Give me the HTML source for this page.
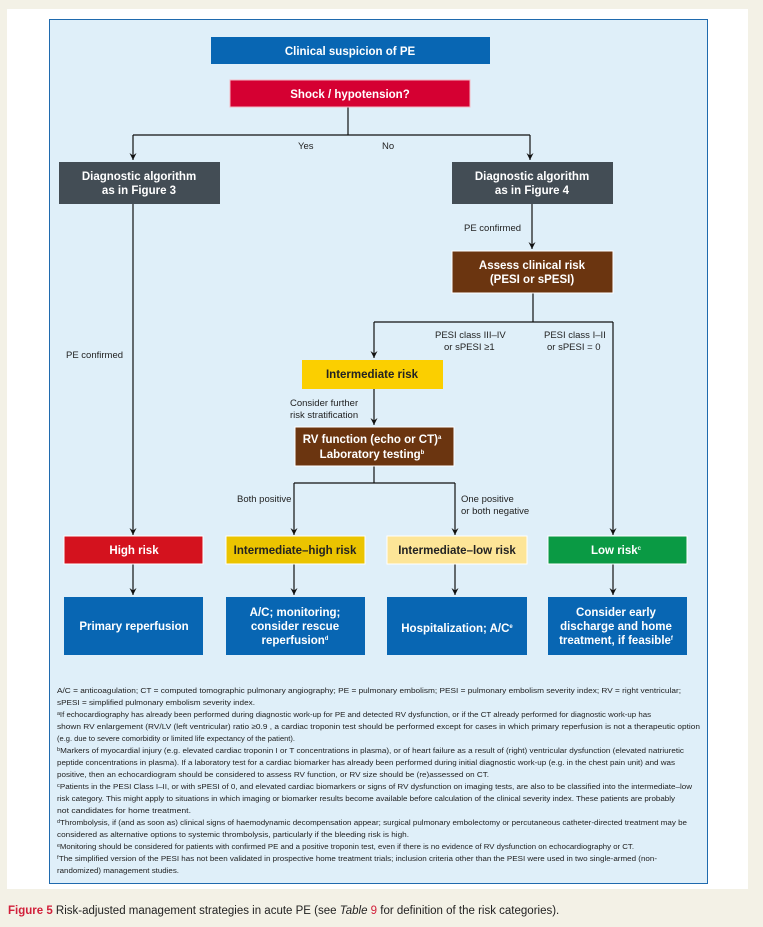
<!DOCTYPE html>
<html><head><meta charset="utf-8"><style>
html,body{margin:0;padding:0;background:#f3f1e6;}
svg{display:block;font-family:"Liberation Sans",sans-serif;}
.w{fill:#fff;font-weight:bold;font-size:11.5px;text-anchor:middle;}
.k{fill:#222;font-weight:bold;font-size:11.5px;text-anchor:middle;}
.l{fill:#222;font-size:9.5px;}
.f{fill:#222;font-size:7.6px;}
</style></head><body>
<svg width="763" height="927" viewBox="0 0 763 927" xmlns="http://www.w3.org/2000/svg">
<defs><marker id="a" markerWidth="8" markerHeight="8" refX="7" refY="3.5" orient="auto" markerUnits="userSpaceOnUse"><path d="M0,0 L7,3.5 L0,7 L2.5,3.5 Z" fill="#111"/></marker></defs>
<rect x="7" y="9" width="741" height="880" fill="#fff"/>
<rect x="49.5" y="19.5" width="658" height="864" fill="#dfeff9" stroke="#1f6aae" stroke-width="1"/>
<g stroke="#111" stroke-width="1.2" fill="none">
<path d="M348,107 V135 M133,135 H530"/>
<path d="M133,135 V160" marker-end="url(#a)"/>
<path d="M530,135 V160" marker-end="url(#a)"/>
<path d="M133,204 V535" marker-end="url(#a)"/>
<path d="M532,204 V249" marker-end="url(#a)"/>
<path d="M533,293 V322 M374,322 H613"/>
<path d="M374,322 V358" marker-end="url(#a)"/>
<path d="M613,322 V535" marker-end="url(#a)"/>
<path d="M374,389 V425" marker-end="url(#a)"/>
<path d="M374,466 V483 M294,483 H455"/>
<path d="M294,483 V535" marker-end="url(#a)"/>
<path d="M455,483 V535" marker-end="url(#a)"/>
<path d="M133,564 V595" marker-end="url(#a)"/>
<path d="M294,564 V595" marker-end="url(#a)"/>
<path d="M455,564 V595" marker-end="url(#a)"/>
<path d="M613,564 V595" marker-end="url(#a)"/>
</g>
<rect x="211" y="37" width="279" height="27" fill="#0866b3"/>
<text class="w" x="350" y="55">Clinical suspicion of PE</text>
<rect x="230" y="80" width="240" height="27" fill="#d50032" stroke="#f4b8c4"/>
<text class="w" x="350" y="98">Shock / hypotension?</text>
<text class="l" x="298" y="149">Yes</text><text class="l" x="382" y="149">No</text>
<rect x="59" y="162" width="161" height="42" fill="#434d55"/>
<text class="w" x="139" y="180">Diagnostic algorithm</text><text class="w" x="139" y="194">as in Figure 3</text>
<rect x="452" y="162" width="161" height="42" fill="#434d55"/>
<text class="w" x="532" y="180">Diagnostic algorithm</text><text class="w" x="532" y="194">as in Figure 4</text>
<text class="l" x="464" y="231">PE confirmed</text>
<text class="l" x="66" y="358">PE confirmed</text>
<rect x="452" y="251" width="161" height="42" fill="#6b3510" stroke="#fff"/>
<text class="w" x="532" y="269">Assess clinical risk</text><text class="w" x="532" y="283">(PESI or sPESI)</text>
<text class="l" x="435" y="338">PESI class III–IV</text><text class="l" x="444" y="350">or sPESI ≥1</text>
<text class="l" x="544" y="338">PESI class I–II</text><text class="l" x="547" y="350">or sPESI = 0</text>
<rect x="302" y="360" width="141" height="29" fill="#fbcf00"/>
<text class="k" x="372" y="378">Intermediate risk</text>
<text class="l" x="290" y="406">Consider further</text><text class="l" x="290" y="418">risk stratification</text>
<rect x="295" y="427" width="159" height="39" fill="#6b3510" stroke="#fff"/>
<text class="w" x="372" y="443">RV function (echo or CT)<tspan font-size="6" dy="-4">a</tspan></text>
<text class="w" x="372" y="458">Laboratory testing<tspan font-size="6" dy="-4">b</tspan></text>
<text class="l" x="237" y="502">Both positive</text>
<text class="l" x="461" y="502">One positive</text><text class="l" x="461" y="514">or both negative</text>
<rect x="64" y="536" width="139" height="28" fill="#d4121e" stroke="#fff"/>
<text class="w" x="134" y="554">High risk</text>
<rect x="226" y="536" width="139" height="28" fill="#ebc400" stroke="#fff"/>
<text class="k" x="295" y="554">Intermediate–high risk</text>
<rect x="387" y="536" width="140" height="28" fill="#fde597" stroke="#fff"/>
<text class="k" x="457" y="554">Intermediate–low risk</text>
<rect x="548" y="536" width="139" height="28" fill="#0a9a44" stroke="#fff"/>
<text class="w" x="616" y="554">Low risk<tspan font-size="6" dy="-4">c</tspan></text>
<rect x="64" y="597" width="139" height="58" fill="#0866b3"/>
<text class="w" x="134" y="630">Primary reperfusion</text>
<rect x="226" y="597" width="139" height="58" fill="#0866b3"/>
<text class="w" x="295" y="616">A/C; monitoring;</text><text class="w" x="295" y="630">consider rescue</text><text class="w" x="295" y="644">reperfusion<tspan font-size="6" dy="-4">d</tspan></text>
<rect x="387" y="597" width="140" height="58" fill="#0866b3"/>
<text class="w" x="457" y="632">Hospitalization; A/C<tspan font-size="6" dy="-4">e</tspan></text>
<rect x="548" y="597" width="139" height="58" fill="#0866b3"/>
<text class="w" x="616" y="616">Consider early</text><text class="w" x="616" y="630">discharge and home</text><text class="w" x="616" y="644">treatment, if feasible<tspan font-size="6" dy="-4">f</tspan></text>
<g class="f">
<text class="f" x="57" y="693" textLength="624" lengthAdjust="spacingAndGlyphs">A/C = anticoagulation; CT = computed tomographic pulmonary angiography; PE = pulmonary embolism; PESI = pulmonary embolism severity index; RV = right ventricular;</text>
<text class="f" x="57" y="705" textLength="198" lengthAdjust="spacingAndGlyphs">sPESI = simplified pulmonary embolism severity index.</text>
<text class="f" x="57" y="717" textLength="594" lengthAdjust="spacingAndGlyphs">ᵃIf echocardiography has already been performed during diagnostic work-up for PE and detected RV dysfunction, or if the CT already performed for diagnostic work-up has</text>
<text class="f" x="57" y="729" textLength="643" lengthAdjust="spacingAndGlyphs">shown RV enlargement (RV/LV (left ventricular) ratio ≥0.9 , a cardiac troponin test should be performed except for cases in which primary reperfusion is not a therapeutic option</text>
<text class="f" x="57" y="741" textLength="238" lengthAdjust="spacingAndGlyphs">(e.g. due to severe comorbidity or limited life expectancy of the patient).</text>
<text class="f" x="57" y="753" textLength="627" lengthAdjust="spacingAndGlyphs">ᵇMarkers of myocardial injury (e.g. elevated cardiac troponin I or T concentrations in plasma), or of heart failure as a result of (right) ventricular dysfunction (elevated natriuretic</text>
<text class="f" x="57" y="765" textLength="618" lengthAdjust="spacingAndGlyphs">peptide concentrations in plasma). If a laboratory test for a cardiac biomarker has already been performed during initial diagnostic work-up (e.g. in the chest pain unit) and was</text>
<text class="f" x="57" y="777" textLength="432" lengthAdjust="spacingAndGlyphs">positive, then an echocardiogram should be considered to assess RV function, or RV size should be (re)assessed on CT.</text>
<text class="f" x="57" y="789" textLength="635" lengthAdjust="spacingAndGlyphs">ᶜPatients in the PESI Class I–II, or with sPESI of 0, and elevated cardiac biomarkers or signs of RV dysfunction on imaging tests, are also to be classified into the intermediate–low</text>
<text class="f" x="57" y="801" textLength="618" lengthAdjust="spacingAndGlyphs">risk category. This might apply to situations in which imaging or biomarker results become available before calculation of the clinical severity index. These patients are probably</text>
<text class="f" x="57" y="813" textLength="134" lengthAdjust="spacingAndGlyphs">not candidates for home treatment.</text>
<text class="f" x="57" y="825" textLength="630" lengthAdjust="spacingAndGlyphs">ᵈThrombolysis, if (and as soon as) clinical signs of haemodynamic decompensation appear; surgical pulmonary embolectomy or percutaneous catheter-directed treatment may be</text>
<text class="f" x="57" y="837" textLength="352" lengthAdjust="spacingAndGlyphs">considered as alternative options to systemic thrombolysis, particularly if the bleeding risk is high.</text>
<text class="f" x="57" y="849" textLength="577" lengthAdjust="spacingAndGlyphs">ᵉMonitoring should be considered for patients with confirmed PE and a positive troponin test, even if there is no evidence of RV dysfunction on echocardiography or CT.</text>
<text class="f" x="57" y="861" textLength="600" lengthAdjust="spacingAndGlyphs">ᶠThe simplified version of the PESI has not been validated in prospective home treatment trials; inclusion criteria other than the PESI were used in two single-armed (non-</text>
<text class="f" x="57" y="873" textLength="122" lengthAdjust="spacingAndGlyphs">randomized) management studies.</text>
</g>
<text x="8" y="914" font-size="11.5" fill="#222"><tspan fill="#d1203a" font-weight="bold">Figure 5</tspan>  Risk-adjusted management strategies in acute PE (see <tspan font-style="italic">Table</tspan> <tspan fill="#d1203a">9</tspan> for definition of the risk categories).</text>
</svg>
</body></html>
